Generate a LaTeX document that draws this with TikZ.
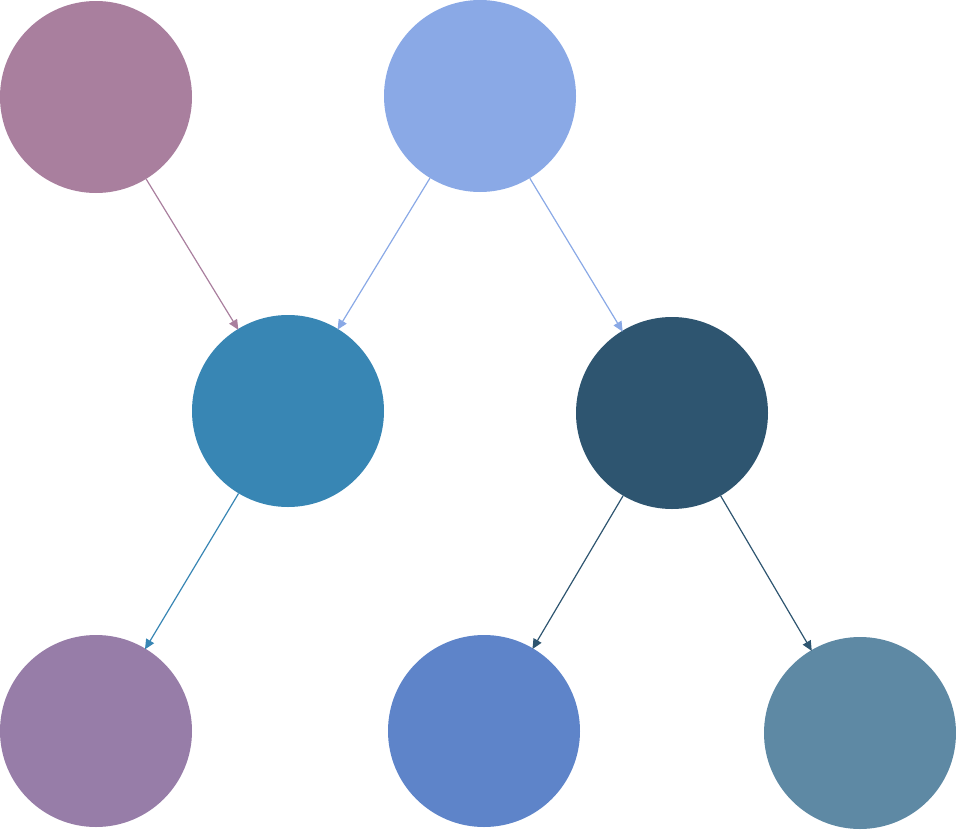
\documentclass[tikz,border=0pt]{standalone}
\usetikzlibrary{arrows.meta}
\definecolor{ca}{HTML}{A97F9E}
\definecolor{cb}{HTML}{8AA9E6}
\definecolor{cc}{HTML}{3886B4}
\definecolor{cd}{HTML}{2E5570}
\definecolor{ce}{HTML}{977DA8}
\definecolor{cf}{HTML}{5E84C9}
\definecolor{cg}{HTML}{5E89A4}
\begin{document}
\begin{tikzpicture}[x=1pt,y=-1pt,
  dot/.style={circle,minimum size=192pt,inner sep=0pt,draw=none,fill=#1},
  link/.style={draw=#1,line width=1.2pt,-{Triangle[length=10pt,width=9pt]},shorten >=-1pt}]
\useasboundingbox (0,0) rectangle (956,830);
\node[dot=ca] (a) at (96,97) {};
\node[dot=cb] (b) at (480,96) {};
\node[dot=cc] (c) at (288,411) {};
\node[dot=cd] (d) at (672,413) {};
\node[dot=ce] (e) at (96,731) {};
\node[dot=cf] (f) at (484,731) {};
\node[dot=cg] (g) at (860,733) {};
\draw[link=ca] (a) -- (c);
\draw[link=cb] (b) -- (c);
\draw[link=cb] (b) -- (d);
\draw[link=cc] (c) -- (e);
\draw[link=cd] (d) -- (f);
\draw[link=cd] (d) -- (g);
\end{tikzpicture}
\end{document}
